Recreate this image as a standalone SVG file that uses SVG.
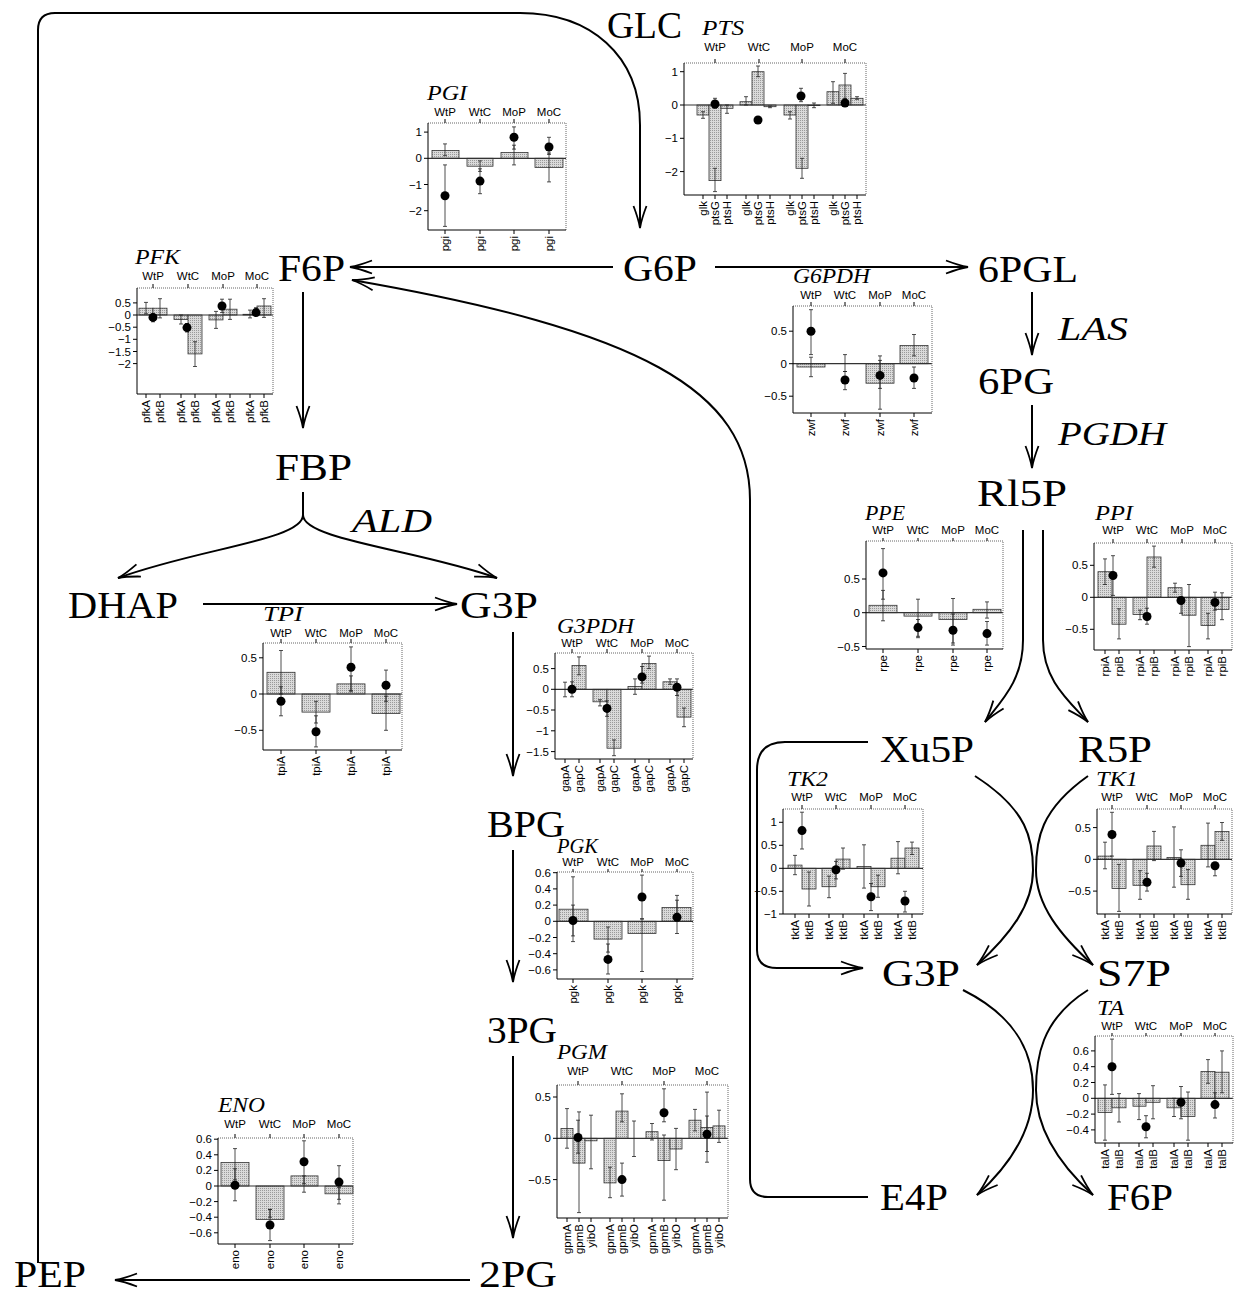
<svg xmlns="http://www.w3.org/2000/svg" width="1236" height="1294" viewBox="0 0 1236 1294">
<style>
.n{font-family:"Liberation Serif","Times New Roman",serif;font-size:37px;fill:#000}
.e{font-family:"Liberation Serif",serif;font-style:italic;font-size:33px;fill:#000}
.t{font-family:"Liberation Serif",serif;font-style:italic;font-size:20px;fill:#000}
.g{font-family:"Liberation Sans",Arial,sans-serif;font-size:11.5px;text-anchor:middle;fill:#000}
.yl{font-family:"Liberation Sans",Arial,sans-serif;font-size:11.5px;text-anchor:end;fill:#000}
.xl{font-family:"Liberation Sans",Arial,sans-serif;font-size:11.5px;text-anchor:end;fill:#000}
.ax{stroke:#000;stroke-width:1;fill:none}
.dt{stroke:#666;stroke-width:1;stroke-dasharray:1 1;fill:none}
.b{fill:url(#hatch);stroke:#333;stroke-width:0.8}
.eb{stroke:#222;stroke-width:0.8;fill:none}
.z{stroke:#333;stroke-width:1.2}
.c{stroke:#000;stroke-width:2;fill:none}
.a{marker-end:url(#arr)}
</style>
<defs>
<pattern id="hatch" width="2" height="2" patternUnits="userSpaceOnUse"><rect width="2" height="2" fill="#dadada"/><rect width="1" height="1" fill="#9a9a9a"/></pattern>
<marker id="arr" viewBox="-24 -8 26 16" refX="0" refY="0" markerWidth="26" markerHeight="16" markerUnits="userSpaceOnUse" orient="auto"><path d="M-22,-6.5 Q-9,-1.5 0,0 Q-9,1.5 -22,6.5" fill="none" stroke="#000" stroke-width="1.8"/></marker>
</defs>
<rect width="1236" height="1294" fill="#fff"/>

<g id="connectors">
<path class="c a" d="M38 1263 L38 30 Q38 13 55 13 L520 13 C590 13 640 55 640 125 L640 228"/>
<path class="c a" d="M613 267 L350 267"/>
<path class="c a" d="M715 267 L968 267"/>
<path class="c a" d="M868 1197 L768 1197 Q750 1197 750 1179 L750 500 C750 390 640 330 352 280"/>
<path class="c a" d="M303 292 L303 428"/>
<path class="c a" d="M303 492 L303 515 C303 540 200 548 118 578"/>
<path class="c a" d="M303 515 C303 540 420 550 497 578"/>
<path class="c a" d="M203 604 L457 604"/>
<path class="c a" d="M513 632 L513 776"/>
<path class="c a" d="M513 850 L513 982"/>
<path class="c a" d="M513 1056 L513 1238"/>
<path class="c a" d="M470 1280 L115 1280"/>
<path class="c a" d="M1032 292 L1032 355"/>
<path class="c a" d="M1032 405 L1032 468"/>
<path class="c a" d="M1023 530 L1023 640 C1023 680 1002 700 985 722"/>
<path class="c a" d="M1043 530 L1043 640 C1043 680 1068 700 1088 722"/>
<path class="c a" d="M868 742 L785 742 Q757 742 757 770 L757 950 Q757 968 777 968 L863 968"/>
<path class="c a" d="M975 776 C1028 810 1033 840 1033 870 C1033 905 1010 935 977 965"/>
<path class="c a" d="M1088 776 C1040 810 1036 840 1036 870 C1036 905 1060 935 1093 965"/>
<path class="c a" d="M963 990 C1023 1020 1033 1060 1033 1090 C1033 1130 1010 1165 977 1195"/>
<path class="c a" d="M1088 990 C1040 1020 1036 1060 1036 1090 C1036 1130 1060 1165 1093 1195"/>
</g>

<g id="node-GLC"><text class="n" x="607" y="38" textLength="75" lengthAdjust="spacingAndGlyphs">GLC</text></g>
<g id="node-F6P"><text class="n" x="278" y="281" textLength="67" lengthAdjust="spacingAndGlyphs">F6P</text></g>
<g id="node-G6P"><text class="n" x="623" y="281" textLength="74" lengthAdjust="spacingAndGlyphs">G6P</text></g>
<g id="node-6PGL"><text class="n" x="978" y="282" textLength="100" lengthAdjust="spacingAndGlyphs">6PGL</text></g>
<g id="node-6PG"><text class="n" x="978" y="394" textLength="76" lengthAdjust="spacingAndGlyphs">6PG</text></g>
<g id="node-Rl5P"><text class="n" x="977" y="506" textLength="90" lengthAdjust="spacingAndGlyphs">Rl5P</text></g>
<g id="node-FBP"><text class="n" x="275" y="480" textLength="77" lengthAdjust="spacingAndGlyphs">FBP</text></g>
<g id="node-DHAP"><text class="n" x="68" y="618" textLength="110" lengthAdjust="spacingAndGlyphs">DHAP</text></g>
<g id="node-G3P"><text class="n" x="460" y="618" textLength="78" lengthAdjust="spacingAndGlyphs">G3P</text></g>
<g id="node-Xu5P"><text class="n" x="880" y="762" textLength="94" lengthAdjust="spacingAndGlyphs">Xu5P</text></g>
<g id="node-R5P"><text class="n" x="1078" y="762" textLength="74" lengthAdjust="spacingAndGlyphs">R5P</text></g>
<g id="node-BPG"><text class="n" x="487" y="837" textLength="78" lengthAdjust="spacingAndGlyphs">BPG</text></g>
<g id="node-G3P-2"><text class="n" x="882" y="986" textLength="78" lengthAdjust="spacingAndGlyphs">G3P</text></g>
<g id="node-S7P"><text class="n" x="1097" y="986" textLength="74" lengthAdjust="spacingAndGlyphs">S7P</text></g>
<g id="node-3PG"><text class="n" x="487" y="1043" textLength="70" lengthAdjust="spacingAndGlyphs">3PG</text></g>
<g id="node-E4P"><text class="n" x="880" y="1210" textLength="68" lengthAdjust="spacingAndGlyphs">E4P</text></g>
<g id="node-F6P-2"><text class="n" x="1107" y="1210" textLength="66" lengthAdjust="spacingAndGlyphs">F6P</text></g>
<g id="node-PEP"><text class="n" x="14" y="1287" textLength="72" lengthAdjust="spacingAndGlyphs">PEP</text></g>
<g id="node-2PG"><text class="n" x="479" y="1287" textLength="78" lengthAdjust="spacingAndGlyphs">2PG</text></g>

<g id="enzyme-labels">
<text class="e" x="352" y="532" textLength="80" lengthAdjust="spacingAndGlyphs">ALD</text>
<text class="e" x="1058" y="340" textLength="70" lengthAdjust="spacingAndGlyphs">LAS</text>
<text class="e" x="1058" y="445" textLength="108" lengthAdjust="spacingAndGlyphs">PGDH</text>
</g>

<!-- PTS -->
<g id="chart-PTS">
<text class="t" x="702" y="35" textLength="42" lengthAdjust="spacingAndGlyphs">PTS</text>
<text class="g" x="715" y="51">WtP</text><text class="g" x="759" y="51">WtC</text><text class="g" x="802" y="51">MoP</text><text class="g" x="845" y="51">MoC</text>
<rect class="b" x="697" y="105" width="12" height="10"/><rect class="b" x="709" y="105" width="12" height="75.6"/><rect class="b" x="721" y="105" width="12" height="3.3"/>
<rect class="b" x="740" y="101.7" width="12" height="3.3"/><rect class="b" x="752" y="71.7" width="12" height="33.3"/><rect class="b" x="764" y="105" width="12" height="1.7"/>
<rect class="b" x="784" y="105" width="12" height="10"/><rect class="b" x="796" y="105" width="12" height="63.3"/><rect class="b" x="808" y="105" width="12" height="0.6"/>
<rect class="b" x="827" y="91.7" width="12" height="13.3"/><rect class="b" x="839" y="85" width="12" height="20"/><rect class="b" x="851" y="98.3" width="12" height="6.7"/>
<path class="z" d="M684 105H866"/>
<path class="dt" d="M684 63H866V195"/>
<path class="ax" d="M684 63V195H866M715 63v-4M759 63v-4M802 63v-4M845 63v-4M684 71.7h-4M684 105h-4M684 138.3h-4M684 171.6h-4M703 195v4M715 195v4M727 195v4M746 195v4M758 195v4M770 195v4M790 195v4M802 195v4M814 195v4M833 195v4M845 195v4M857 195v4"/>
<path class="eb" d="M701 118.3h4M703 118.3V111.7M701 111.7h4M713 191.6h4M715 191.6V168.3M713 168.3h4M725 113.3h4M727 113.3V105M725 105h4M713 108.3h4M715 108.3V98.3M713 98.3h4M744 105h4M746 105V96.7M744 96.7h4M756 76.7h4M758 76.7V66M756 66h4M768 107.7h4M770 107.7V106M768 106h4M756 123.3h4M758 123.3V116.7M756 116.7h4M788 119h4M790 119V111.7M788 111.7h4M800 178.3h4M802 178.3V158.3M800 158.3h4M812 107.7h4M814 107.7V103M812 103h4M799 101.7h4M801 101.7V88.3M799 88.3h4M831 103.3h4M833 103.3V81.7M831 81.7h4M843 101.7h4M845 101.7V73.4M843 73.4h4M855 99.3h4M857 99.3V96.7M855 96.7h4M843 105h4M845 105V98.3M843 98.3h4"/>
<circle cx="715" cy="104" r="4.5"/><circle cx="758" cy="120" r="4.5"/><circle cx="801" cy="96" r="4.5"/><circle cx="845" cy="103" r="4.5"/>
<text class="yl" x="678" y="75.7">1</text><text class="yl" x="678" y="109">0</text><text class="yl" x="678" y="142.3">−1</text><text class="yl" x="678" y="175.6">−2</text>
<text class="xl" transform="translate(707,201) rotate(-90)">glk</text><text class="xl" transform="translate(719,201) rotate(-90)">ptsG</text><text class="xl" transform="translate(731,201) rotate(-90)">ptsH</text>
<text class="xl" transform="translate(750,201) rotate(-90)">glk</text><text class="xl" transform="translate(762,201) rotate(-90)">ptsG</text><text class="xl" transform="translate(774,201) rotate(-90)">ptsH</text>
<text class="xl" transform="translate(794,201) rotate(-90)">glk</text><text class="xl" transform="translate(806,201) rotate(-90)">ptsG</text><text class="xl" transform="translate(818,201) rotate(-90)">ptsH</text>
<text class="xl" transform="translate(837,201) rotate(-90)">glk</text><text class="xl" transform="translate(849,201) rotate(-90)">ptsG</text><text class="xl" transform="translate(861,201) rotate(-90)">ptsH</text>
</g>

<!-- PGI -->
<g id="chart-PGI">
<text class="t" x="427" y="100" textLength="40" lengthAdjust="spacingAndGlyphs">PGI</text>
<text class="g" x="445" y="116">WtP</text><text class="g" x="480" y="116">WtC</text><text class="g" x="514" y="116">MoP</text><text class="g" x="549" y="116">MoC</text>
<rect class="b" x="432" y="150.4" width="27" height="7.9"/><rect class="b" x="467" y="158.3" width="26" height="7.9"/><rect class="b" x="501" y="152.5" width="27" height="5.8"/><rect class="b" x="535" y="158.3" width="28" height="9.2"/>
<path class="z" d="M428 158.3H566"/>
<path class="dt" d="M428 123H566V230"/>
<path class="ax" d="M428 123V230H566M445 123v-4M480 123v-4M514 123v-4M549 123v-4M428 132.1h-4M428 158.3h-4M428 184.5h-4M428 210.7h-4M445 230v4M480 230v4M514 230v4M549 230v4"/>
<path class="eb" d="M443 155.7h4M445 155.7V143.9M443 143.9h4M443 226.4h4M445 226.4V164.9M443 164.9h4M478 171.4h4M480 171.4V160.9M478 160.9h4M478 193.7h4M480 193.7V168.8M478 168.8h4M512 164.9h4M514 164.9V145.2M512 145.2h4M512 149.1h4M514 149.1V126.9M512 126.9h4M547 181.9h4M549 181.9V153M547 153h4M547 154.4h4M549 154.4V137.3M547 137.3h4"/>
<circle cx="445" cy="195.8" r="4.5"/><circle cx="480" cy="181.1" r="4.5"/><circle cx="514" cy="137.3" r="4.5"/><circle cx="549" cy="147" r="4.5"/>
<text class="yl" x="422" y="136.1">1</text><text class="yl" x="422" y="162.3">0</text><text class="yl" x="422" y="188.5">−1</text><text class="yl" x="422" y="214.7">−2</text>
<text class="xl" transform="translate(449,236) rotate(-90)">pgi</text><text class="xl" transform="translate(484,236) rotate(-90)">pgi</text><text class="xl" transform="translate(518,236) rotate(-90)">pgi</text><text class="xl" transform="translate(553,236) rotate(-90)">pgi</text>
</g>

<!-- PFK -->
<g id="chart-PFK">
<text class="t" x="135" y="264" textLength="45" lengthAdjust="spacingAndGlyphs">PFK</text>
<text class="g" x="153" y="280">WtP</text><text class="g" x="188" y="280">WtC</text><text class="g" x="223" y="280">MoP</text><text class="g" x="257" y="280">MoC</text>
<rect class="b" x="139" y="308.2" width="14" height="6.8"/><rect class="b" x="153" y="308.2" width="14" height="6.8"/>
<rect class="b" x="174" y="315" width="14" height="4.4"/><rect class="b" x="188" y="315" width="14" height="38.9"/>
<rect class="b" x="209" y="315" width="14" height="4.9"/><rect class="b" x="223" y="309.2" width="14" height="5.8"/>
<rect class="b" x="243" y="314.3" width="14" height="0.7"/><rect class="b" x="257" y="306" width="14" height="9"/>
<path class="z" d="M137 315H273"/>
<path class="dt" d="M137 288H273V394"/>
<path class="ax" d="M137 288V394H273M153 288v-4M188 288v-4M223 288v-4M257 288v-4M137 302.9h-4M137 315h-4M137 327.2h-4M137 339.3h-4M137 351.5h-4M137 363.6h-4M146 394v4M160 394v4M181 394v4M195 394v4M216 394v4M230 394v4M250 394v4M264 394v4"/>
<path class="eb" d="M144 313.8h4M146 313.8V302.4M144 302.4h4M158 317.9h4M160 317.9V298.7M158 298.7h4M151 321.8h4M153 321.8V313.8M151 313.8h4M179 324h4M181 324V315M179 315h4M193 366.5h4M195 366.5V341.7M193 341.7h4M185 332h4M187 332V323.5M185 323.5h4M214 328.4h4M216 328.4V311.4M214 311.4h4M228 319.4h4M230 319.4V299.2M228 299.2h4M220 312.6h4M222 312.6V299.2M220 299.2h4M248 317.9h4M250 317.9V310.1M248 310.1h4M262 317.4h4M264 317.4V298.7M262 298.7h4M254 315h4M256 315V307.7M254 307.7h4"/>
<circle cx="153" cy="317.4" r="4.5"/><circle cx="187" cy="327.6" r="4.5"/><circle cx="222" cy="306" r="4.5"/><circle cx="256" cy="312.6" r="4.5"/>
<text class="yl" x="131" y="306.9">0.5</text><text class="yl" x="131" y="319">0</text><text class="yl" x="131" y="331.2">−0.5</text><text class="yl" x="131" y="343.3">−1</text><text class="yl" x="131" y="355.5">−1.5</text><text class="yl" x="131" y="367.6">−2</text>
<text class="xl" transform="translate(150,400) rotate(-90)">pfkA</text><text class="xl" transform="translate(164,400) rotate(-90)">pfkB</text>
<text class="xl" transform="translate(185,400) rotate(-90)">pfkA</text><text class="xl" transform="translate(199,400) rotate(-90)">pfkB</text>
<text class="xl" transform="translate(220,400) rotate(-90)">pfkA</text><text class="xl" transform="translate(234,400) rotate(-90)">pfkB</text>
<text class="xl" transform="translate(254,400) rotate(-90)">pfkA</text><text class="xl" transform="translate(268,400) rotate(-90)">pfkB</text>
</g>

<!-- G6PDH -->
<g id="chart-G6PDH">
<text class="t" x="793" y="283" textLength="77" lengthAdjust="spacingAndGlyphs">G6PDH</text>
<text class="g" x="811" y="299">WtP</text><text class="g" x="845" y="299">WtC</text><text class="g" x="880" y="299">MoP</text><text class="g" x="914" y="299">MoC</text>
<rect class="b" x="797" y="363.7" width="28" height="3.3"/><rect class="b" x="866" y="363.7" width="28" height="19.5"/><rect class="b" x="900" y="345.5" width="28" height="18.2"/>
<path class="z" d="M793 363.7H932"/>
<path class="dt" d="M793 306H932V413"/>
<path class="ax" d="M793 306V413H932M811 306v-4M845 306v-4M880 306v-4M914 306v-4M793 331.2h-4M793 363.7h-4M793 396.2h-4M811 413v4M845 413v4M880 413v4M914 413v4"/>
<path class="eb" d="M809 376.7h4M811 376.7V357.2M809 357.2h4M809 354.6h4M811 354.6V309.7M809 309.7h4M843 371.5h4M845 371.5V354.6M843 354.6h4M843 389.7h4M845 389.7V371.5M843 371.5h4M878 409.2h4M880 409.2V355.9M878 355.9h4M878 388.4h4M880 388.4V360.4M878 360.4h4M912 355.9h4M914 355.9V334.5M912 334.5h4M912 388.4h4M914 388.4V367M912 367h4"/>
<circle cx="811" cy="331.2" r="4.5"/><circle cx="845" cy="380" r="4.5"/><circle cx="880" cy="375.4" r="4.5"/><circle cx="914" cy="378" r="4.5"/>
<text class="yl" x="787" y="335.2">0.5</text><text class="yl" x="787" y="367.7">0</text><text class="yl" x="787" y="400.2">−0.5</text>
<text class="xl" transform="translate(815,419) rotate(-90)">zwf</text><text class="xl" transform="translate(849,419) rotate(-90)">zwf</text><text class="xl" transform="translate(884,419) rotate(-90)">zwf</text><text class="xl" transform="translate(918,419) rotate(-90)">zwf</text>
</g>

<!-- TPI -->
<g id="chart-TPI">
<text class="t" x="263" y="621" textLength="40" lengthAdjust="spacingAndGlyphs">TPI</text>
<text class="g" x="281" y="637">WtP</text><text class="g" x="316" y="637">WtC</text><text class="g" x="351" y="637">MoP</text><text class="g" x="386" y="637">MoC</text>
<rect class="b" x="267" y="672.3" width="28" height="21.7"/><rect class="b" x="302" y="694" width="28" height="18.1"/><rect class="b" x="337" y="683.9" width="28" height="10.1"/><rect class="b" x="372" y="694" width="28" height="19.6"/>
<path class="z" d="M263 694H402"/>
<path class="dt" d="M263 643H402V750"/>
<path class="ax" d="M263 643V750H402M281 643v-4M316 643v-4M351 643v-4M386 643v-4M263 657.8h-4M263 694h-4M263 730.3h-4M281 750v4M316 750v4M351 750v4M386 750v4"/>
<path class="eb" d="M279 694h4M281 694V650.5M279 650.5h4M279 715.8h4M281 715.8V686.8M279 686.8h4M314 723h4M316 723V701.3M314 701.3h4M314 746.9h4M316 746.9V715.8M314 715.8h4M349 691.8h4M351 691.8V675.9M349 675.9h4M349 690.4h4M351 690.4V646.9M349 646.9h4M384 701.3h4M386 701.3V696.2M384 696.2h4M384 730.3h4M386 730.3V670.1M384 670.1h4"/>
<circle cx="281" cy="701.3" r="4.5"/><circle cx="316" cy="731.7" r="4.5"/><circle cx="351" cy="667.2" r="4.5"/><circle cx="386" cy="685.3" r="4.5"/>
<text class="yl" x="257" y="661.8">0.5</text><text class="yl" x="257" y="698">0</text><text class="yl" x="257" y="734.3">−0.5</text>
<text class="xl" transform="translate(285,756) rotate(-90)">tpiA</text><text class="xl" transform="translate(320,756) rotate(-90)">tpiA</text><text class="xl" transform="translate(355,756) rotate(-90)">tpiA</text><text class="xl" transform="translate(390,756) rotate(-90)">tpiA</text>
</g>

<!-- G3PDH -->
<g id="chart-G3PDH">
<text class="t" x="557" y="633" textLength="77" lengthAdjust="spacingAndGlyphs">G3PDH</text>
<text class="g" x="572" y="647">WtP</text><text class="g" x="607" y="647">WtC</text><text class="g" x="642" y="647">MoP</text><text class="g" x="677" y="647">MoC</text>
<rect class="b" x="572" y="665.6" width="14" height="23.7"/>
<rect class="b" x="593" y="689.3" width="14" height="12.5"/><rect class="b" x="607" y="689.3" width="14" height="58.9"/>
<rect class="b" x="628" y="686.4" width="14" height="2.9"/><rect class="b" x="642" y="663.6" width="14" height="25.7"/>
<rect class="b" x="663" y="681.8" width="14" height="7.5"/><rect class="b" x="677" y="689.3" width="14" height="27.8"/>
<path class="z" d="M555 689.3H693"/>
<path class="dt" d="M555 653H693V759"/>
<path class="ax" d="M555 653V759H693M572 653v-4M607 653v-4M642 653v-4M677 653v-4M555 668.6h-4M555 689.3h-4M555 710h-4M555 730.8h-4M555 751.6h-4M565 759v4M579 759v4M600 759v4M614 759v4M635 759v4M649 759v4M670 759v4M684 759v4"/>
<path class="eb" d="M563 696.8h4M565 696.8V682.2M563 682.2h4M577 674.8h4M579 674.8V656.9M577 656.9h4M570 696.8h4M572 696.8V681.8M570 681.8h4M598 705.9h4M600 705.9V699.7M598 699.7h4M612 755.7h4M614 755.7V739.9M612 739.9h4M605 716.3h4M607 716.3V700.9M605 700.9h4M633 694.3h4M635 694.3V678.9M633 678.9h4M647 668.6h4M649 668.6V656.1M647 656.1h4M640 683.1h4M642 683.1V666.5M640 666.5h4M668 684.3h4M670 684.3V678.9M668 678.9h4M682 726.7h4M684 726.7V708M682 708h4M675 695.5h4M677 695.5V678.9M675 678.9h4"/>
<circle cx="572" cy="689.3" r="4.5"/><circle cx="607" cy="708.4" r="4.5"/><circle cx="642" cy="676.9" r="4.5"/><circle cx="677" cy="687.2" r="4.5"/>
<text class="yl" x="549" y="672.6">0.5</text><text class="yl" x="549" y="693.3">0</text><text class="yl" x="549" y="714">−0.5</text><text class="yl" x="549" y="734.8">−1</text><text class="yl" x="549" y="755.6">−1.5</text>
<text class="xl" transform="translate(569,765) rotate(-90)">gapA</text><text class="xl" transform="translate(583,765) rotate(-90)">gapC</text>
<text class="xl" transform="translate(604,765) rotate(-90)">gapA</text><text class="xl" transform="translate(618,765) rotate(-90)">gapC</text>
<text class="xl" transform="translate(639,765) rotate(-90)">gapA</text><text class="xl" transform="translate(653,765) rotate(-90)">gapC</text>
<text class="xl" transform="translate(674,765) rotate(-90)">gapA</text><text class="xl" transform="translate(688,765) rotate(-90)">gapC</text>
</g>

<!-- PPE -->
<g id="chart-PPE">
<text class="t" x="865" y="520" textLength="40" lengthAdjust="spacingAndGlyphs">PPE</text>
<text class="g" x="883" y="534">WtP</text><text class="g" x="918" y="534">WtC</text><text class="g" x="953" y="534">MoP</text><text class="g" x="987" y="534">MoC</text>
<rect class="b" x="869" y="605.3" width="28" height="7.4"/><rect class="b" x="904" y="612.7" width="28" height="3.4"/><rect class="b" x="939" y="612.7" width="28" height="6.8"/><rect class="b" x="973" y="609.3" width="28" height="3.4"/>
<path class="z" d="M866 612.7H1003"/>
<path class="dt" d="M866 541H1003V649"/>
<path class="ax" d="M866 541V649H1003M883 541v-3M918 541v-3M953 541v-3M987 541v-3M866 579h-4M866 612.7h-4M866 646.5h-4M883 649v4M918 649v4M953 649v4M987 649v4"/>
<path class="eb" d="M881 620.8h4M883 620.8V590.4M881 590.4h4M881 599.2h4M883 599.2V548.6M881 548.6h4M916 636.3h4M918 636.3V599.2M916 599.2h4M916 637.7h4M918 637.7V619.5M916 619.5h4M951 645.1h4M953 645.1V614M951 614h4M951 643h4M953 643V598.5M951 598.5h4M985 618.1h4M987 618.1V601.9M985 601.9h4M985 645.1h4M987 645.1V621.5M985 621.5h4"/>
<circle cx="883" cy="572.9" r="4.5"/><circle cx="918" cy="627.6" r="4.5"/><circle cx="953" cy="630.3" r="4.5"/><circle cx="987" cy="633.6" r="4.5"/>
<text class="yl" x="860" y="583">0.5</text><text class="yl" x="860" y="616.7">0</text><text class="yl" x="860" y="650.5">−0.5</text>
<text class="xl" transform="translate(887,655) rotate(-90)">rpe</text><text class="xl" transform="translate(922,655) rotate(-90)">rpe</text><text class="xl" transform="translate(957,655) rotate(-90)">rpe</text><text class="xl" transform="translate(991,655) rotate(-90)">rpe</text>
</g>

<!-- PPI -->
<g id="chart-PPI">
<text class="t" x="1095" y="520" textLength="38" lengthAdjust="spacingAndGlyphs">PPI</text>
<text class="g" x="1113" y="534">WtP</text><text class="g" x="1147" y="534">WtC</text><text class="g" x="1182" y="534">MoP</text><text class="g" x="1215" y="534">MoC</text>
<rect class="b" x="1098" y="571.7" width="14" height="25.6"/><rect class="b" x="1112" y="597.3" width="14" height="26.9"/>
<rect class="b" x="1133" y="597.3" width="14" height="17.3"/><rect class="b" x="1147" y="557" width="14" height="40.3"/>
<rect class="b" x="1168" y="587.7" width="14" height="9.6"/><rect class="b" x="1182" y="597.3" width="14" height="17.9"/>
<rect class="b" x="1201" y="597.3" width="14" height="28.2"/><rect class="b" x="1215" y="597.3" width="14" height="12.2"/>
<path class="z" d="M1094 597.3H1232"/>
<path class="dt" d="M1094 543H1232V650"/>
<path class="ax" d="M1094 543V650H1232M1113 543v-4M1147 543v-4M1182 543v-4M1215 543v-4M1094 565.3h-4M1094 597.3h-4M1094 629.3h-4M1105 650v4M1119 650v4M1140 650v4M1154 650v4M1175 650v4M1189 650v4M1208 650v4M1222 650v4"/>
<path class="eb" d="M1103 584.5h4M1105 584.5V558.9M1103 558.9h4M1117 638.9h4M1119 638.9V608.8M1117 608.8h4M1111 595.4h4M1113 595.4V555.7M1111 555.7h4M1138 619.7h4M1140 619.7V610.1M1138 610.1h4M1152 567.2h4M1154 567.2V546.1M1152 546.1h4M1145 624.2h4M1147 624.2V608.2M1145 608.2h4M1173 592.2h4M1175 592.2V583.2M1173 583.2h4M1187 646.6h4M1189 646.6V584.5M1187 584.5h4M1179 613.3h4M1181 613.3V597.3M1179 597.3h4M1206 638.9h4M1208 638.9V613.3M1206 613.3h4M1220 619.7h4M1222 619.7V592.8M1220 592.8h4M1213 610.1h4M1215 610.1V592.2M1213 592.2h4"/>
<circle cx="1113" cy="575.5" r="4.5"/><circle cx="1147" cy="616.5" r="4.5"/><circle cx="1181" cy="600.5" r="4.5"/><circle cx="1215" cy="602.4" r="4.5"/>
<text class="yl" x="1088" y="569.3">0.5</text><text class="yl" x="1088" y="601.3">0</text><text class="yl" x="1088" y="633.3">−0.5</text>
<text class="xl" transform="translate(1109,656) rotate(-90)">rpiA</text><text class="xl" transform="translate(1123,656) rotate(-90)">rpiB</text>
<text class="xl" transform="translate(1144,656) rotate(-90)">rpiA</text><text class="xl" transform="translate(1158,656) rotate(-90)">rpiB</text>
<text class="xl" transform="translate(1179,656) rotate(-90)">rpiA</text><text class="xl" transform="translate(1193,656) rotate(-90)">rpiB</text>
<text class="xl" transform="translate(1212,656) rotate(-90)">rpiA</text><text class="xl" transform="translate(1226,656) rotate(-90)">rpiB</text>
</g>

<!-- TK2 -->
<g id="chart-TK2">
<text class="t" x="787" y="786" textLength="41" lengthAdjust="spacingAndGlyphs">TK2</text>
<text class="g" x="802" y="801">WtP</text><text class="g" x="836" y="801">WtC</text><text class="g" x="871" y="801">MoP</text><text class="g" x="905" y="801">MoC</text>
<rect class="b" x="788" y="865.1" width="14" height="3.2"/><rect class="b" x="802" y="868.3" width="14" height="20.7"/>
<rect class="b" x="822" y="868.3" width="14" height="18.4"/><rect class="b" x="836" y="859.1" width="14" height="9.2"/>
<rect class="b" x="857" y="866.5" width="14" height="1.8"/><rect class="b" x="871" y="868.3" width="14" height="18.4"/>
<rect class="b" x="891" y="858.2" width="14" height="10.1"/><rect class="b" x="905" y="848" width="14" height="20.3"/>
<path class="z" d="M783 868.3H923"/>
<path class="dt" d="M783 809H923V914"/>
<path class="ax" d="M783 809V914H923M802 809v-4M836 809v-4M871 809v-4M905 809v-4M783 822.3h-4M783 845.3h-4M783 868.3h-4M783 891.3h-4M783 914h-4M795 914v4M809 914v4M829 914v4M843 914v4M864 914v4M878 914v4M898 914v4M912 914v4"/>
<path class="eb" d="M793 874.7h4M795 874.7V855.4M793 855.4h4M807 906h4M809 906V872M807 872h4M800 849h4M802 849V812.2M800 812.2h4M827 897.7h4M829 897.7V876.1M827 876.1h4M841 869.2h4M843 869.2V848M841 848h4M834 878.9h4M836 878.9V861.4M834 861.4h4M862 888.1h4M864 888.1V844.8M862 844.8h4M876 897.3h4M878 897.3V875.2M876 875.2h4M869 910.6h4M871 910.6V883.5M869 883.5h4M896 873.8h4M898 873.8V841.6M896 841.6h4M910 854.5h4M912 854.5V842.1M910 842.1h4M903 912h4M905 912V891.3M903 891.3h4"/>
<circle cx="802" cy="830.6" r="4.5"/><circle cx="836" cy="869.7" r="4.5"/><circle cx="871" cy="896.8" r="4.5"/><circle cx="905" cy="901" r="4.5"/>
<text class="yl" x="777" y="826.3">1</text><text class="yl" x="777" y="849.3">0.5</text><text class="yl" x="777" y="872.3">0</text><text class="yl" x="777" y="895.3">−0.5</text><text class="yl" x="777" y="918">−1</text>
<text class="xl" transform="translate(799,920) rotate(-90)">tktA</text><text class="xl" transform="translate(813,920) rotate(-90)">tktB</text>
<text class="xl" transform="translate(833,920) rotate(-90)">tktA</text><text class="xl" transform="translate(847,920) rotate(-90)">tktB</text>
<text class="xl" transform="translate(868,920) rotate(-90)">tktA</text><text class="xl" transform="translate(882,920) rotate(-90)">tktB</text>
<text class="xl" transform="translate(902,920) rotate(-90)">tktA</text><text class="xl" transform="translate(916,920) rotate(-90)">tktB</text>
</g>

<!-- TK1 -->
<g id="chart-TK1">
<text class="t" x="1096" y="786" textLength="42" lengthAdjust="spacingAndGlyphs">TK1</text>
<text class="g" x="1112" y="801">WtP</text><text class="g" x="1147" y="801">WtC</text><text class="g" x="1181" y="801">MoP</text><text class="g" x="1215" y="801">MoC</text>
<rect class="b" x="1098" y="856.1" width="14" height="3.2"/><rect class="b" x="1112" y="859.3" width="14" height="29.2"/>
<rect class="b" x="1133" y="859.3" width="14" height="26"/><rect class="b" x="1147" y="846" width="14" height="13.3"/>
<rect class="b" x="1167" y="857.4" width="14" height="1.9"/><rect class="b" x="1181" y="859.3" width="14" height="25.4"/>
<rect class="b" x="1201" y="845.3" width="14" height="14"/><rect class="b" x="1215" y="831.4" width="14" height="27.9"/>
<path class="z" d="M1097 859.3H1232"/>
<path class="dt" d="M1097 809H1232V914"/>
<path class="ax" d="M1097 809V914H1232M1112 809v-4M1147 809v-4M1181 809v-4M1215 809v-4M1097 827.6h-4M1097 859.3h-4M1097 891.1h-4M1105 914v4M1119 914v4M1140 914v4M1154 914v4M1174 914v4M1188 914v4M1208 914v4M1222 914v4"/>
<path class="eb" d="M1103 868.8h4M1105 868.8V842.2M1103 842.2h4M1117 911.4h4M1119 911.4V864.4M1117 864.4h4M1110 856.1h4M1112 856.1V812.3M1110 812.3h4M1138 899.3h4M1140 899.3V870.7M1138 870.7h4M1152 860.6h4M1154 860.6V831.4M1152 831.4h4M1145 891.1h4M1147 891.1V873.3M1145 873.3h4M1172 887.2h4M1174 887.2V826.9M1172 826.9h4M1186 899.3h4M1188 899.3V869.5M1186 869.5h4M1179 876.4h4M1181 876.4V849.8M1179 849.8h4M1206 866.9h4M1208 866.9V823.1M1206 823.1h4M1220 840.3h4M1222 840.3V822.5M1220 822.5h4M1213 875.8h4M1215 875.8V864.4M1213 864.4h4"/>
<circle cx="1112" cy="834.5" r="4.5"/><circle cx="1147" cy="882.2" r="4.5"/><circle cx="1181" cy="863.1" r="4.5"/><circle cx="1215" cy="865.7" r="4.5"/>
<text class="yl" x="1091" y="831.6">0.5</text><text class="yl" x="1091" y="863.3">0</text><text class="yl" x="1091" y="895.1">−0.5</text>
<text class="xl" transform="translate(1109,920) rotate(-90)">tktA</text><text class="xl" transform="translate(1123,920) rotate(-90)">tktB</text>
<text class="xl" transform="translate(1144,920) rotate(-90)">tktA</text><text class="xl" transform="translate(1158,920) rotate(-90)">tktB</text>
<text class="xl" transform="translate(1178,920) rotate(-90)">tktA</text><text class="xl" transform="translate(1192,920) rotate(-90)">tktB</text>
<text class="xl" transform="translate(1212,920) rotate(-90)">tktA</text><text class="xl" transform="translate(1226,920) rotate(-90)">tktB</text>
</g>

<!-- PGK -->
<g id="chart-PGK">
<text class="t" x="557" y="853" textLength="41" lengthAdjust="spacingAndGlyphs">PGK</text>
<text class="g" x="573" y="866">WtP</text><text class="g" x="608" y="866">WtC</text><text class="g" x="642" y="866">MoP</text><text class="g" x="677" y="866">MoC</text>
<rect class="b" x="559" y="909.2" width="29" height="12.1"/><rect class="b" x="594" y="921.3" width="28" height="17.8"/><rect class="b" x="628" y="921.3" width="28" height="12.2"/><rect class="b" x="662" y="907.5" width="29" height="13.8"/>
<path class="z" d="M557 921.3H693"/>
<path class="dt" d="M557 872H693V979"/>
<path class="ax" d="M557 872V979H693M573 872v-3M608 872v-3M642 872v-3M677 872v-3M557 872.7h-4M557 888.9h-4M557 905.1h-4M557 921.3h-4M557 937.5h-4M557 953.7h-4M557 969.9h-4M573 979v4M608 979v4M642 979v4M677 979v4"/>
<path class="eb" d="M571 941.6h4M573 941.6V876.8M571 876.8h4M571 935.9h4M573 935.9V905.1M571 905.1h4M606 952.1h4M608 952.1V927M606 927h4M606 974h4M608 974V944M606 944h4M640 971.5h4M642 971.5V918.9M640 918.9h4M640 918.9h4M642 918.9V875.1M640 875.1h4M675 921.3h4M677 921.3V895.4M675 895.4h4M675 933.5h4M677 933.5V900.2M675 900.2h4"/>
<circle cx="573" cy="920.5" r="4.5"/><circle cx="608" cy="959.4" r="4.5"/><circle cx="642" cy="897" r="4.5"/><circle cx="677" cy="917.3" r="4.5"/>
<text class="yl" x="551" y="876.7">0.6</text><text class="yl" x="551" y="892.9">0.4</text><text class="yl" x="551" y="909.1">0.2</text><text class="yl" x="551" y="925.3">0</text><text class="yl" x="551" y="941.5">−0.2</text><text class="yl" x="551" y="957.7">−0.4</text><text class="yl" x="551" y="973.9">−0.6</text>
<text class="xl" transform="translate(577,985) rotate(-90)">pgk</text><text class="xl" transform="translate(612,985) rotate(-90)">pgk</text><text class="xl" transform="translate(646,985) rotate(-90)">pgk</text><text class="xl" transform="translate(681,985) rotate(-90)">pgk</text>
</g>

<!-- PGM -->
<g id="chart-PGM">
<text class="t" x="557" y="1059" textLength="50" lengthAdjust="spacingAndGlyphs">PGM</text>
<text class="g" x="578" y="1075">WtP</text><text class="g" x="622" y="1075">WtC</text><text class="g" x="664" y="1075">MoP</text><text class="g" x="707" y="1075">MoC</text>
<rect class="b" x="561" y="1128.4" width="12" height="9.9"/><rect class="b" x="573" y="1138.3" width="12" height="24.8"/><rect class="b" x="585" y="1138.3" width="12" height="2.5"/>
<rect class="b" x="604" y="1138.3" width="12" height="44.6"/><rect class="b" x="616" y="1111.1" width="12" height="27.2"/>
<rect class="b" x="646" y="1131.7" width="12" height="6.6"/><rect class="b" x="658" y="1138.3" width="12" height="22.3"/><rect class="b" x="670" y="1138.3" width="12" height="10.7"/>
<rect class="b" x="689" y="1120.2" width="12" height="18.1"/><rect class="b" x="701" y="1127.6" width="12" height="10.7"/><rect class="b" x="713" y="1125.9" width="12" height="12.4"/>
<path class="z" d="M557 1138.3H728"/>
<path class="dt" d="M557 1085H728V1218"/>
<path class="ax" d="M557 1085V1218H728M578 1085v-4M622 1085v-4M664 1085v-4M707 1085v-4M557 1097h-4M557 1138.3h-4M557 1179.6h-4M567 1218v4M579 1218v4M591 1218v4M610 1218v4M622 1218v4M634 1218v4M652 1218v4M664 1218v4M676 1218v4M695 1218v4M707 1218v4M719 1218v4"/>
<path class="eb" d="M565 1148.2h4M567 1148.2V1108.6M565 1108.6h4M577 1212.6h4M579 1212.6V1111.9M577 1111.9h4M589 1168.8h4M591 1168.8V1115.2M589 1115.2h4M576 1153.2h4M578 1153.2V1120.2M576 1120.2h4M608 1197.7h4M610 1197.7V1167.2M608 1167.2h4M620 1121.8h4M622 1121.8V1093.8M620 1093.8h4M632 1156.5h4M634 1156.5V1121M632 1121h4M620 1196.1h4M622 1196.1V1163.1M620 1163.1h4M650 1140h4M652 1140V1123.5M650 1123.5h4M662 1200.2h4M664 1200.2V1135M662 1135h4M674 1169.7h4M676 1169.7V1128.4M674 1128.4h4M662 1121.8h4M664 1121.8V1088.8M662 1088.8h4M693 1130.9h4M695 1130.9V1109.4M693 1109.4h4M705 1162.2h4M707 1162.2V1092.1M705 1092.1h4M717 1142.4h4M719 1142.4V1110.2M717 1110.2h4M705 1151.5h4M707 1151.5V1116M705 1116h4"/>
<circle cx="578" cy="1137.5" r="4.5"/><circle cx="622" cy="1179.6" r="4.5"/><circle cx="664" cy="1112.7" r="4.5"/><circle cx="707" cy="1134.2" r="4.5"/>
<text class="yl" x="551" y="1101">0.5</text><text class="yl" x="551" y="1142.3">0</text><text class="yl" x="551" y="1183.6">−0.5</text>
<text class="xl" transform="translate(571,1224) rotate(-90)">gpmA</text><text class="xl" transform="translate(583,1224) rotate(-90)">gpmB</text><text class="xl" transform="translate(595,1224) rotate(-90)">yibO</text>
<text class="xl" transform="translate(614,1224) rotate(-90)">gpmA</text><text class="xl" transform="translate(626,1224) rotate(-90)">gpmB</text><text class="xl" transform="translate(638,1224) rotate(-90)">yibO</text>
<text class="xl" transform="translate(656,1224) rotate(-90)">gpmA</text><text class="xl" transform="translate(668,1224) rotate(-90)">gpmB</text><text class="xl" transform="translate(680,1224) rotate(-90)">yibO</text>
<text class="xl" transform="translate(699,1224) rotate(-90)">gpmA</text><text class="xl" transform="translate(711,1224) rotate(-90)">gpmB</text><text class="xl" transform="translate(723,1224) rotate(-90)">yibO</text>
</g>

<!-- ENO -->
<g id="chart-ENO">
<text class="t" x="218" y="1112" textLength="47" lengthAdjust="spacingAndGlyphs">ENO</text>
<text class="g" x="235" y="1128">WtP</text><text class="g" x="270" y="1128">WtC</text><text class="g" x="304" y="1128">MoP</text><text class="g" x="339" y="1128">MoC</text>
<rect class="b" x="221" y="1162.6" width="28" height="23.4"/><rect class="b" x="256" y="1186" width="28" height="33.5"/><rect class="b" x="291" y="1175.9" width="27" height="10.1"/><rect class="b" x="325" y="1186" width="28" height="7.8"/>
<path class="z" d="M218 1186H353"/>
<path class="dt" d="M218 1138H353V1244"/>
<path class="ax" d="M218 1138V1244H353M235 1138v-4M270 1138v-4M304 1138v-4M339 1138v-4M218 1139.2h-4M218 1154.8h-4M218 1170.4h-4M218 1186h-4M218 1201.6h-4M218 1217.2h-4M218 1232.8h-4M235 1244v4M270 1244v4M304 1244v4M339 1244v4"/>
<path class="eb" d="M233 1179.8h4M235 1179.8V1148.6M233 1148.6h4M233 1200.8h4M235 1200.8V1168.8M233 1168.8h4M268 1217.2h4M270 1217.2V1209.4M268 1209.4h4M268 1240.6h4M270 1240.6V1209.4M268 1209.4h4M302 1192.2h4M304 1192.2V1175.9M302 1175.9h4M302 1183.7h4M304 1183.7V1140.8M302 1140.8h4M337 1199.3h4M339 1199.3V1187.6M337 1187.6h4M337 1203.9h4M339 1203.9V1165.7M337 1165.7h4"/>
<circle cx="235" cy="1185.2" r="4.5"/><circle cx="270" cy="1225" r="4.5"/><circle cx="304" cy="1161.8" r="4.5"/><circle cx="339" cy="1182.1" r="4.5"/>
<text class="yl" x="212" y="1143.2">0.6</text><text class="yl" x="212" y="1158.8">0.4</text><text class="yl" x="212" y="1174.4">0.2</text><text class="yl" x="212" y="1190">0</text><text class="yl" x="212" y="1205.6">−0.2</text><text class="yl" x="212" y="1221.2">−0.4</text><text class="yl" x="212" y="1236.8">−0.6</text>
<text class="xl" transform="translate(239,1250) rotate(-90)">eno</text><text class="xl" transform="translate(274,1250) rotate(-90)">eno</text><text class="xl" transform="translate(308,1250) rotate(-90)">eno</text><text class="xl" transform="translate(343,1250) rotate(-90)">eno</text>
</g>

<!-- TA -->
<g id="chart-TA">
<text class="t" x="1097" y="1015" textLength="27" lengthAdjust="spacingAndGlyphs">TA</text>
<text class="g" x="1112" y="1030">WtP</text><text class="g" x="1146" y="1030">WtC</text><text class="g" x="1181" y="1030">MoP</text><text class="g" x="1215" y="1030">MoC</text>
<rect class="b" x="1098" y="1098.3" width="14" height="14.2"/><rect class="b" x="1112" y="1098.3" width="14" height="9.5"/>
<rect class="b" x="1133" y="1098.3" width="13" height="7.9"/><rect class="b" x="1146" y="1098.3" width="14" height="4"/>
<rect class="b" x="1167" y="1098.3" width="14" height="9.5"/><rect class="b" x="1181" y="1098.3" width="14" height="18.2"/>
<rect class="b" x="1201" y="1071.4" width="14" height="26.9"/><rect class="b" x="1215" y="1072.2" width="14" height="26.1"/>
<path class="z" d="M1095 1098.3H1233"/>
<path class="dt" d="M1095 1036H1233V1143"/>
<path class="ax" d="M1095 1036V1143H1233M1112 1036v-3M1146 1036v-3M1181 1036v-3M1215 1036v-3M1095 1050.9h-4M1095 1066.7h-4M1095 1082.5h-4M1095 1098.3h-4M1095 1114.1h-4M1095 1129.9h-4M1105 1143v4M1119 1143v4M1139 1143v4M1153 1143v4M1174 1143v4M1188 1143v4M1208 1143v4M1222 1143v4"/>
<path class="eb" d="M1103 1140.2h4M1105 1140.2V1084.9M1103 1084.9h4M1117 1122h4M1119 1122V1093.6M1117 1093.6h4M1110 1094.4h4M1112 1094.4V1039.1M1110 1039.1h4M1137 1119.6h4M1139 1119.6V1093.6M1137 1093.6h4M1151 1118.8h4M1153 1118.8V1085.7M1151 1085.7h4M1144 1137.8h4M1146 1137.8V1115.7M1144 1115.7h4M1172 1116.5h4M1174 1116.5V1098.3M1172 1098.3h4M1186 1140.2h4M1188 1140.2V1092M1186 1092h4M1179 1118.8h4M1181 1118.8V1086.5M1179 1086.5h4M1206 1083.3h4M1208 1083.3V1059.6M1206 1059.6h4M1220 1092.8h4M1222 1092.8V1050.9M1220 1050.9h4M1213 1118h4M1215 1118V1092.8M1213 1092.8h4"/>
<circle cx="1112" cy="1066.7" r="4.5"/><circle cx="1146" cy="1126.7" r="4.5"/><circle cx="1181" cy="1102.3" r="4.5"/><circle cx="1215" cy="1104.6" r="4.5"/>
<text class="yl" x="1089" y="1054.9">0.6</text><text class="yl" x="1089" y="1070.7">0.4</text><text class="yl" x="1089" y="1086.5">0.2</text><text class="yl" x="1089" y="1102.3">0</text><text class="yl" x="1089" y="1118.1">−0.2</text><text class="yl" x="1089" y="1133.9">−0.4</text>
<text class="xl" transform="translate(1109,1149) rotate(-90)">talA</text><text class="xl" transform="translate(1123,1149) rotate(-90)">talB</text>
<text class="xl" transform="translate(1143,1149) rotate(-90)">talA</text><text class="xl" transform="translate(1157,1149) rotate(-90)">talB</text>
<text class="xl" transform="translate(1178,1149) rotate(-90)">talA</text><text class="xl" transform="translate(1192,1149) rotate(-90)">talB</text>
<text class="xl" transform="translate(1212,1149) rotate(-90)">talA</text><text class="xl" transform="translate(1226,1149) rotate(-90)">talB</text>
</g>
</svg>
